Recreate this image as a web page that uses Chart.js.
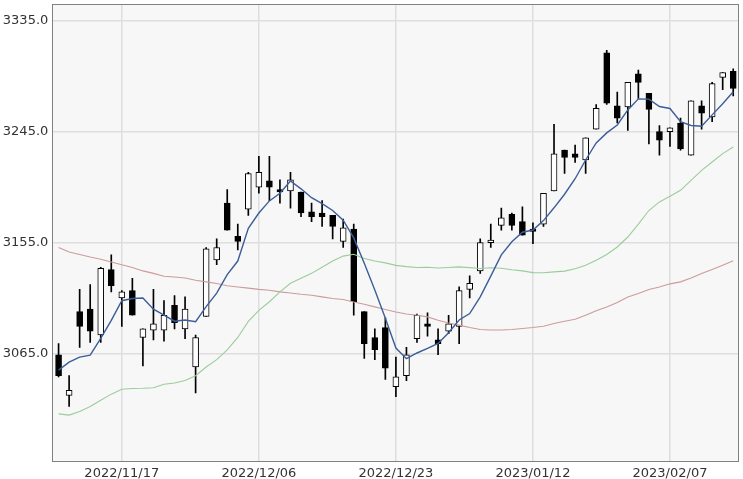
<!DOCTYPE html>
<html>
<head>
<meta charset="utf-8">
<script src="https://cdn.jsdelivr.net/npm/chart.js@4/dist/chart.umd.min.js"></script>
<style>
html,body{margin:0;padding:0;background:#ffffff;overflow:hidden;}
canvas{display:block;}
</style>
</head>
<body>
<canvas id="c" width="743" height="479" style="width:743px;height:479px;"></canvas>
<script>
const dates = [
 '2022/11/09','2022/11/10','2022/11/11','2022/11/14','2022/11/15','2022/11/16','2022/11/17','2022/11/18',
 '2022/11/21','2022/11/22','2022/11/23','2022/11/24','2022/11/25','2022/11/28','2022/11/29','2022/11/30',
 '2022/12/01','2022/12/02','2022/12/05','2022/12/06','2022/12/07','2022/12/08','2022/12/09','2022/12/12',
 '2022/12/13','2022/12/14','2022/12/15','2022/12/16','2022/12/19','2022/12/20','2022/12/21','2022/12/22',
 '2022/12/23','2022/12/26','2022/12/27','2022/12/28','2022/12/29','2022/12/30','2023/01/03','2023/01/04',
 '2023/01/05','2023/01/06','2023/01/09','2023/01/10','2023/01/11','2023/01/12','2023/01/13','2023/01/16',
 '2023/01/17','2023/01/18','2023/01/19','2023/01/20','2023/01/30','2023/01/31','2023/02/01','2023/02/02',
 '2023/02/03','2023/02/06','2023/02/07','2023/02/08','2023/02/09','2023/02/10','2023/02/13','2023/02/14',
 '2023/02/15'
];
const opens = [3064,3031,3099,3101,3080,3133,3110,3116,3078,3084,3084,3104,3085,3054,3095,3141,
 3187,3160,3182,3200,3205,3198,3197,3196,3180,3179,3177,3156,3166,3099,3078,3086,
 3038,3047,3077,3089,3076,3083,3087,3117,3132,3155,3169,3178,3172,3166,3170,3197,
 3230,3227,3222,3247,3309,3266,3265,3292,3276,3245,3245,3252,3226,3266,3257,3289,3294];
const highs = [3073,3047,3117,3121,3135,3145,3116,3126,3085,3117,3108,3112,3111,3080,3151,3158,
 3198,3170,3212,3225,3225,3206,3212,3196,3187,3189,3177,3174,3170,3099,3085,3094,
 3062,3070,3097,3098,3085,3096,3119,3128,3158,3170,3183,3179,3184,3171,3195,3251,
 3230,3234,3240,3267,3311,3277,3285,3295,3276,3250,3248,3256,3270,3270,3285,3293,3296];
const lows = [3046,3022,3070,3074,3074,3115,3087,3096,3055,3076,3075,3085,3077,3033,3095,3137,
 3165,3149,3177,3195,3189,3187,3183,3176,3172,3168,3158,3151,3096,3061,3060,3044,
 3030,3043,3074,3079,3064,3081,3073,3110,3130,3151,3165,3165,3161,3154,3168,3197,
 3211,3220,3211,3247,3267,3252,3246,3272,3235,3226,3233,3230,3226,3247,3253,3279,3274];
const closes = [3047,3035,3087,3083,3134,3120,3115,3096,3085,3089,3096,3090,3101,3078,3150,3151,
 3165,3156,3211,3212,3200,3196,3206,3179,3176,3176,3168,3167,3107,3073,3068,3053,
 3046,3064,3096,3087,3073,3089,3116,3122,3155,3157,3175,3169,3161,3164,3195,3227,
 3224,3224,3240,3264,3268,3256,3285,3285,3263,3238,3248,3231,3270,3260,3284,3293,3280];
const ma5 = [3051.5,3058,3062,3063.6,3077.2,3091.8,3107.8,3109.6,3110,3101,3096.2,3091.2,3092.2,3090.8,3103,3114,
 3129,3140,3166.6,3179,3188.8,3195,3205,3198.6,3191.4,3186.6,3181,3173.2,3158.8,3138.2,3116.6,3093.6,
 3069.4,3060.8,3065.4,3069.2,3073.2,3081.8,3092.2,3097.4,3111,3127.8,3145,3155.6,3163.4,3165.2,3172.8,3183.2,
 3194.2,3206.8,3222,3235.8,3244,3250.4,3262.6,3271.6,3271.4,3265.4,3263.8,3253,3250,3249.4,3258.6,3267.6,3277.4];
const ma25 = [3016,3015,3018,3022,3027,3032,3036,3036.6,3036.8,3037.2,3040,3041,3043,3047,3054,3060,
 3068,3078,3091,3100,3107,3115,3122,3126,3130,3135,3140,3144,3145.5,3142,3140,3138.5,
 3136.5,3135.5,3134.8,3135,3134.3,3134.8,3135.3,3134.7,3134,3134.5,3134.2,3133,3132,3130.6,3130.5,3131.2,
 3131.8,3133.8,3136.6,3140.6,3145.3,3151.4,3159.5,3170,3181,3188,3192.5,3197.4,3205.5,3213.6,3220.4,3227.2,3232.5];
const ma75 = [3151,3147.4,3145.3,3143.3,3141.5,3139.3,3137,3134.7,3132,3130,3127.7,3127,3126.3,3124.4,3123.1,3121.8,
 3120,3119,3118,3117,3116.3,3115,3114.1,3113.1,3112.3,3110.9,3109.6,3108.8,3106.8,3105,3102.8,3100.7,
 3098.7,3097,3096,3094.7,3092,3089.8,3088,3086.1,3084.5,3084,3084,3084.5,3085.3,3086.1,3087.1,3089.3,
 3091.2,3092.8,3096.1,3099.6,3102.8,3106.4,3110.9,3113.6,3116.9,3119,3121.5,3123.1,3126.3,3129.9,3133.1,3136.6,3140.3];
const yTickValues = [3065, 3155, 3245, 3335];
const xTickDates = ['2022/11/17','2022/12/06','2022/12/23','2023/01/12','2023/02/07'];

const wickData = lows.map((l, i) => [l, highs[i]]);
const bodyData = opens.map((o, i) => [Math.min(o, closes[i]), Math.max(o, closes[i])]);
const bodyColors = opens.map((o, i) => closes[i] >= o ? '#ffffff' : '#000000');

const plotBg = {
  id: 'plotBg',
  beforeDraw(chart) {
    const a = chart.chartArea, ctx = chart.ctx;
    ctx.save();
    ctx.fillStyle = '#f7f7f7';
    ctx.fillRect(a.left, a.top, a.right - a.left, a.bottom - a.top);
    ctx.restore();
  },
  afterDraw(chart) {
    const a = chart.chartArea, ctx = chart.ctx;
    ctx.save();
    ctx.strokeStyle = '#808080';
    ctx.lineWidth = 1;
    ctx.strokeRect(Math.round(a.left) - 0.5, Math.round(a.top) - 0.5, Math.round(a.right - a.left) + 1, Math.round(a.bottom - a.top) + 1);
    ctx.restore();
  }
};

Chart.defaults.font.family = "'DejaVu Sans', Verdana, sans-serif";
Chart.defaults.font.size = 13;
Chart.defaults.color = '#333333';

new Chart(document.getElementById('c'), {
  type: 'bar',
  data: {
    labels: dates,
    datasets: [
      { type: 'line', data: ma5, borderColor: '#3b5e98', borderWidth: 1.4, pointRadius: 0, fill: false, tension: 0, order: 0 },
      { type: 'line', data: ma25, borderColor: '#9ccc9c', borderWidth: 1.1, pointRadius: 0, fill: false, tension: 0, order: 1 },
      { type: 'line', data: ma75, borderColor: '#cc9c9c', borderWidth: 1.1, pointRadius: 0, fill: false, tension: 0, order: 2 },
      { type: 'bar', data: bodyData, backgroundColor: bodyColors, borderColor: '#000000', borderWidth: 1,
        borderSkipped: false, barThickness: 6, minBarLength: 1, grouped: false, order: 3 },
      { type: 'bar', data: wickData, backgroundColor: '#000000', borderWidth: 0,
        barThickness: 1, grouped: false, order: 4 }
    ]
  },
  options: {
    responsive: false,
    animation: false,
    devicePixelRatio: 1,
    layout: { padding: { left: 0, right: 4.5, top: 4.7, bottom: 0 } },
    plugins: { legend: { display: false }, tooltip: { enabled: false } },
    scales: {
      x: {
        type: 'category',
        offset: true,
        grid: { offset: false, color: '#dedede', lineWidth: 1.5, drawTicks: false },
        border: { display: false },
        ticks: { autoSkip: false, maxRotation: 0, padding: 5,
          callback: function(v) { return this.getLabelForValue(v); } },
        afterBuildTicks: (axis) => {
          axis.ticks = axis.ticks.filter(t => xTickDates.includes(dates[t.value]));
        },
        afterFit: (axis) => { axis.height = 18.3; axis.paddingLeft = 0; axis.paddingRight = 0; }
      },
      y: {
        min: 2978, max: 3348,
        grid: { color: '#dedede', lineWidth: 1.5, drawTicks: false },
        border: { display: false },
        ticks: { padding: 5, callback: (v) => Number(v).toFixed(1) },
        afterBuildTicks: (axis) => { axis.ticks = yTickValues.map(v => ({ value: v })); },
        afterFit: (axis) => { axis.width = 53.3; axis.paddingTop = 0; axis.paddingBottom = 0; }
      }
    }
  },
  plugins: [plotBg]
});
</script>
</body>
</html>
